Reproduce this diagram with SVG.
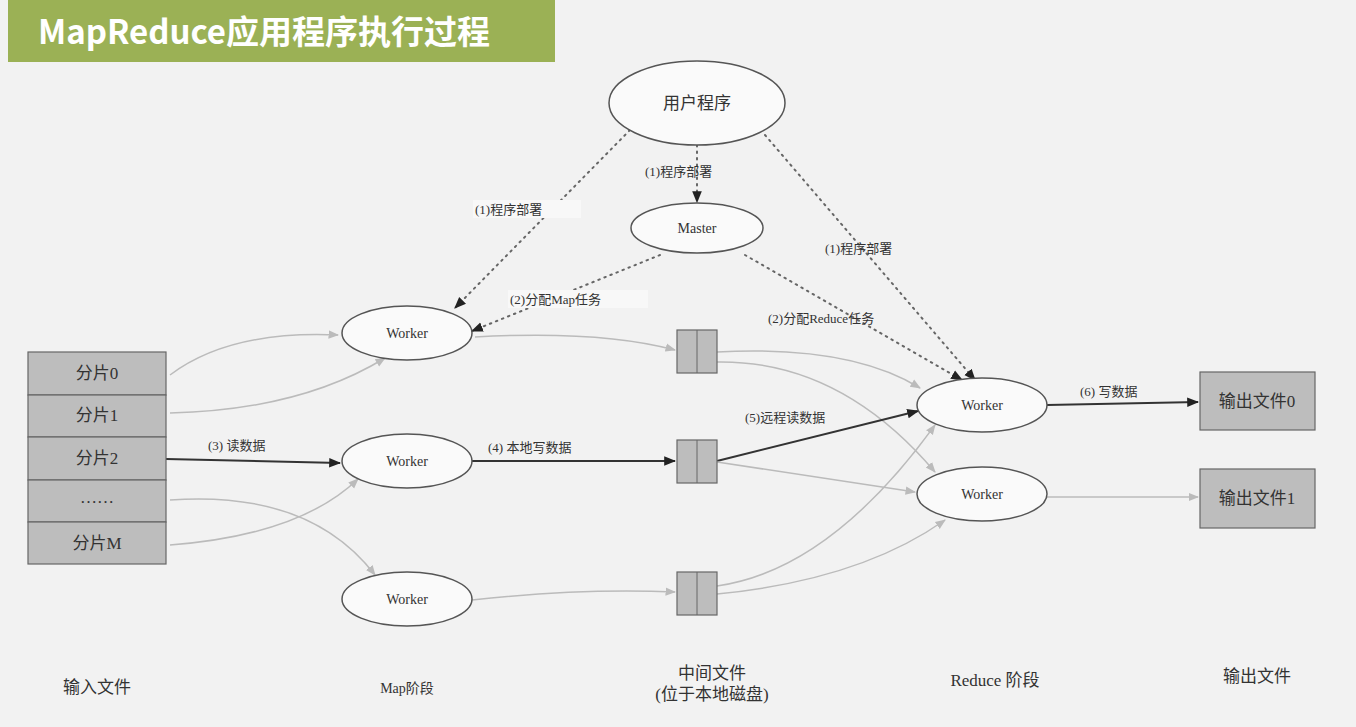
<svg xmlns="http://www.w3.org/2000/svg" width="1356" height="727" viewBox="0 0 1356 727">
<defs>
<style>
text{font-family:"Liberation Serif","Noto Sans CJK SC",serif;fill:#333;font-size:14px}
.lbl{font-size:13px}
.ell{fill:#fafafa;stroke:#555;stroke-width:1.5}
.box{fill:#bdbdbd;stroke:#666;stroke-width:1.2}
.g{fill:none;stroke:#bbb;stroke-width:1.5}
.d{fill:none;stroke:#333;stroke-width:2}
.dot{fill:none;stroke:#666;stroke-width:2;stroke-dasharray:1.5 5;stroke-linecap:round}
.big{font-size:17px}
</style>
<marker id="ag" viewBox="0 0 10 10" refX="9" refY="5" markerWidth="7" markerHeight="7" orient="auto"><path d="M0,1L10,5L0,9z" fill="#bbb"/></marker>
<marker id="ad" viewBox="0 0 10 10" refX="9" refY="5" markerWidth="6" markerHeight="6" orient="auto"><path d="M0,1L10,5L0,9z" fill="#222"/></marker>
</defs>
<rect width="1356" height="727" fill="#f2f2f2"/>
<g id="title"><rect x="8" y="0" width="547" height="62" fill="#9bb155"/>
<text x="38" y="44" style="font-family:'Noto Sans CJK SC','Noto Sans',sans-serif;font-size:33px;font-weight:bold;fill:#fff">MapReduce应用程序执行过程</text></g>
<g id="connectors">
<path class="dot" d="M630,130 L455,308" marker-end="url(#ad)"/>
<path class="dot" d="M697,145 L697,202" marker-end="url(#ad)"/>
<path class="dot" d="M765,135 L975,380" marker-end="url(#ad)"/>
<path class="dot" d="M660,255 L472,331" marker-end="url(#ad)"/>
<path class="dot" d="M745,255 L962,380" marker-end="url(#ad)"/>
<path class="g" d="M170,375 Q230,330 338,335" marker-end="url(#ag)"/>
<path class="g" d="M170,413 Q300,410 385,358" marker-end="url(#ag)"/>
<path class="d" d="M166,459 L340,463" marker-end="url(#ad)"/>
<path class="g" d="M170,500 Q310,490 375,575" marker-end="url(#ag)"/>
<path class="g" d="M170,545 Q300,535 358,479" marker-end="url(#ag)"/>
<path class="g" d="M475,337 Q600,330 675,350" marker-end="url(#ag)"/>
<path class="d" d="M472,461 L675,461" marker-end="url(#ad)"/>
<path class="g" d="M472,600 Q580,588 675,592" marker-end="url(#ag)"/>
<path class="g" d="M717,352 Q850,345 920,388" marker-end="url(#ag)"/>
<path class="g" d="M717,362 Q840,360 935,472" marker-end="url(#ag)"/>
<path class="d" d="M717,461 L918,411" marker-end="url(#ad)"/>
<path class="g" d="M717,462 L915,492" marker-end="url(#ag)"/>
<path class="g" d="M717,586 Q830,570 935,425" marker-end="url(#ag)"/>
<path class="g" d="M717,594 Q860,580 945,520" marker-end="url(#ag)"/>
<path class="d" d="M1047,405 L1198,402" marker-end="url(#ad)"/>
<path class="g" d="M1047,497 L1198,497" marker-end="url(#ag)"/>
<g class="lbl">
<rect x="473" y="200" width="108" height="18" fill="#f8f8f8"/><text class="lbl" x="475" y="214">(1)程序部署</text>
<text class="lbl" x="645" y="176">(1)程序部署</text>
<text class="lbl" x="825" y="253">(1)程序部署</text>
<rect x="508" y="290" width="140" height="18" fill="#f8f8f8"/><text class="lbl" x="510" y="304">(2)分配Map任务</text>
<text class="lbl" x="768" y="323">(2)分配Reduce任务</text>
<text class="lbl" x="208" y="450">(3)  读数据</text>
<text class="lbl" x="488" y="452">(4)  本地写数据</text>
<text class="lbl" x="745" y="422">(5)远程读数据</text>
<text class="lbl" x="1080" y="396">(6)  写数据</text>
</g>
</g>
<g id="user"><ellipse class="ell" cx="697" cy="103" rx="88" ry="42"/><text x="697" y="109" text-anchor="middle" class="big">用户程序</text></g>
<g id="master"><ellipse class="ell" cx="697" cy="228" rx="66" ry="25"/><text x="697" y="233" text-anchor="middle">Master</text></g>
<g id="mw1"><ellipse class="ell" cx="407" cy="333" rx="65" ry="27"/><text x="407" y="338" text-anchor="middle">Worker</text></g>
<g id="mw2"><ellipse class="ell" cx="407" cy="461" rx="65" ry="27"/><text x="407" y="466" text-anchor="middle">Worker</text></g>
<g id="mw3"><ellipse class="ell" cx="407" cy="599" rx="65" ry="27"/><text x="407" y="604" text-anchor="middle">Worker</text></g>
<g id="rw1"><ellipse class="ell" cx="982" cy="405" rx="65" ry="27"/><text x="982" y="410" text-anchor="middle">Worker</text></g>
<g id="rw2"><ellipse class="ell" cx="982" cy="494" rx="65" ry="27"/><text x="982" y="499" text-anchor="middle">Worker</text></g>
<g id="inputs">
<rect class="box" x="28" y="352" width="138" height="43"/><text x="97" y="379" text-anchor="middle" class="big">分片0</text>
<rect class="box" x="28" y="395" width="138" height="42"/><text x="97" y="421" text-anchor="middle" class="big">分片1</text>
<rect class="box" x="28" y="437" width="138" height="43"/><text x="97" y="464" text-anchor="middle" class="big">分片2</text>
<rect class="box" x="28" y="480" width="138" height="42"/><text x="97" y="503" text-anchor="middle" class="big">……</text>
<rect class="box" x="28" y="522" width="138" height="42"/><text x="97" y="549" text-anchor="middle" class="big">分片M</text>
</g>
<g id="files">
<rect class="box" x="677" y="330" width="40" height="43"/><line x1="697" y1="330" x2="697" y2="373" stroke="#666"/>
<rect class="box" x="677" y="440" width="40" height="43"/><line x1="697" y1="440" x2="697" y2="483" stroke="#666"/>
<rect class="box" x="677" y="572" width="40" height="43"/><line x1="697" y1="572" x2="697" y2="615" stroke="#666"/>
</g>
<g id="out0"><rect class="box" x="1200" y="372" width="115" height="58"/><text x="1257" y="407" text-anchor="middle" class="big">输出文件0</text></g>
<g id="out1"><rect class="box" x="1200" y="469" width="115" height="59"/><text x="1257" y="504" text-anchor="middle" class="big">输出文件1</text></g>
<g id="stages">
<text x="97" y="693" text-anchor="middle" class="big">输入文件</text>
<text x="407" y="693" text-anchor="middle">Map阶段</text>
<text x="712" y="679" text-anchor="middle" class="big">中间文件</text>
<text x="712" y="700" text-anchor="middle" class="big">(位于本地磁盘)</text>
<text x="995" y="686" text-anchor="middle" class="big">Reduce 阶段</text>
<text x="1257" y="682" text-anchor="middle" class="big">输出文件</text>
</g>
</svg>
